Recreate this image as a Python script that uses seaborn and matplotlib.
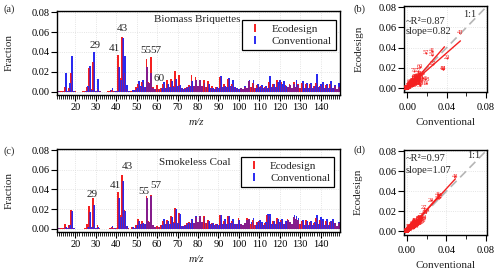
import numpy as np
import pandas as pd
import matplotlib
matplotlib.use("Agg")
import matplotlib.pyplot as plt
import seaborn as sns
from matplotlib.lines import Line2D
from matplotlib.ticker import MultipleLocator, FormatStrFormatter

# ---------------- data ----------------
mz = list(range(12, 151))

bb_eco = [0.001, 0.0003, 0.001, 0.005, 0.001, 0.004, 0.019, 0.0005, 0.0003, 0,
          0, 0, 0.0002, 0.0003, 0.005, 0.024, 0.003, 0.030, 0.001, 0.003,
          0.0005, 0, 0, 0, 0.0002, 0.001, 0.002, 0.001, 0.0005, 0.037,
          0.014, 0.055, 0.019, 0.003, 0.0005, 0.0003, 0.001, 0.002, 0.005, 0.008,
          0.005, 0.010, 0.005, 0.033, 0.010, 0.035, 0.005, 0.003, 0.007, 0.003,
          0.004, 0.008, 0.004, 0.012, 0.005, 0.013, 0.006, 0.021, 0.006, 0.017,
          0.004, 0.003, 0.004, 0.005, 0.007, 0.017, 0.006, 0.015, 0.006, 0.012,
          0.006, 0.012, 0.005, 0.011, 0.004, 0.006, 0.003, 0.005, 0.004, 0.015,
          0.005, 0.008, 0.005, 0.013, 0.006, 0.008, 0.005, 0.004, 0.003, 0.004,
          0.003, 0.005, 0.004, 0.011, 0.005, 0.009, 0.004, 0.007, 0.005, 0.006,
          0.004, 0.005, 0.004, 0.010, 0.005, 0.008, 0.005, 0.012, 0.006, 0.010,
          0.005, 0.007, 0.005, 0.008, 0.004, 0.010, 0.005, 0.008, 0.004, 0.009,
          0.004, 0.008, 0.004, 0.008, 0.004, 0.006, 0.009, 0.005, 0.006, 0.008,
          0.004, 0.007, 0.004, 0.008, 0.004, 0.006, 0.003, 0.005, 0.003]

bb_conv = [0.0003, 0, 0.0005, 0.019, 0.001, 0.009, 0.036, 0.001, 0, 0,
           0, 0, 0, 0.0002, 0.006, 0.026, 0.002, 0.040, 0.001, 0.013,
           0.0005, 0, 0, 0, 0, 0.002, 0.004, 0.0005, 0.0003, 0.025,
           0.012, 0.054, 0.036, 0.007, 0.0005, 0, 0.002, 0.002, 0.004, 0.011,
           0.006, 0.012, 0.005, 0.025, 0.009, 0.019, 0.004, 0.003, 0.003, 0.002,
           0.004, 0.010, 0.004, 0.008, 0.005, 0.011, 0.005, 0.013, 0.006, 0.007,
           0.004, 0.003, 0.004, 0.005, 0.006, 0.011, 0.006, 0.012, 0.006, 0.012,
           0.006, 0.009, 0.005, 0.008, 0.004, 0.004, 0.003, 0.005, 0.004, 0.016,
           0.005, 0.006, 0.005, 0.014, 0.006, 0.012, 0.005, 0.004, 0.003, 0.004,
           0.003, 0.006, 0.004, 0.012, 0.005, 0.012, 0.004, 0.008, 0.005, 0.007,
           0.004, 0.006, 0.004, 0.016, 0.005, 0.008, 0.005, 0.010, 0.012, 0.008,
           0.011, 0.006, 0.005, 0.007, 0.004, 0.008, 0.012, 0.007, 0.004, 0.011,
           0.004, 0.009, 0.004, 0.009, 0.004, 0.006, 0.018, 0.005, 0.008, 0.010,
           0.004, 0.008, 0.004, 0.011, 0.004, 0.007, 0.003, 0.009, 0.003]

sc_eco = [0.001, 0.0003, 0.001, 0.005, 0.001, 0.004, 0.019, 0.0005, 0.0002, 0,
          0, 0, 0, 0.0003, 0.005, 0.0235, 0.002, 0.031, 0.001, 0.004,
          0.0003, 0, 0, 0, 0, 0.001, 0.002, 0.0005, 0.0003, 0.037,
          0.014, 0.055, 0.019, 0.003, 0.0003, 0, 0.002, 0.001, 0.004, 0.010,
          0.005, 0.008, 0.005, 0.033, 0.008, 0.034, 0.004, 0.002, 0.003, 0.002,
          0.004, 0.008, 0.005, 0.009, 0.005, 0.013, 0.007, 0.021, 0.006, 0.016,
          0.003, 0.003, 0.004, 0.006, 0.007, 0.009, 0.006, 0.012, 0.007, 0.013,
          0.007, 0.013, 0.006, 0.009, 0.005, 0.006, 0.004, 0.005, 0.004, 0.014,
          0.005, 0.008, 0.005, 0.013, 0.006, 0.008, 0.005, 0.005, 0.011, 0.005,
          0.004, 0.006, 0.011, 0.010, 0.005, 0.009, 0.004, 0.007, 0.008, 0.006,
          0.004, 0.006, 0.014, 0.013, 0.005, 0.008, 0.005, 0.011, 0.006, 0.009,
          0.005, 0.007, 0.010, 0.007, 0.005, 0.012, 0.010, 0.009, 0.005, 0.008,
          0.004, 0.009, 0.004, 0.007, 0.004, 0.006, 0.011, 0.005, 0.009, 0.008,
          0.004, 0.008, 0.004, 0.007, 0.008, 0.006, 0.003, 0.006, 0.004]

sc_conv = [0.0003, 0, 0.0005, 0.002, 0.0005, 0.004, 0.018, 0.0005, 0, 0,
           0, 0, 0, 0, 0.002, 0.017, 0.002, 0.024, 0.001, 0.002,
           0, 0, 0, 0, 0, 0.001, 0.003, 0.0003, 0, 0.031,
           0.012, 0.049, 0.018, 0.003, 0, 0, 0.002, 0.001, 0.004, 0.008,
           0.005, 0.006, 0.005, 0.031, 0.007, 0.033, 0.004, 0.002, 0.002, 0.002,
           0.004, 0.010, 0.005, 0.008, 0.005, 0.012, 0.006, 0.020, 0.006, 0.015,
           0.003, 0.003, 0.004, 0.006, 0.006, 0.010, 0.006, 0.013, 0.007, 0.013,
           0.007, 0.012, 0.006, 0.008, 0.005, 0.006, 0.004, 0.005, 0.004, 0.014,
           0.005, 0.010, 0.005, 0.013, 0.006, 0.010, 0.005, 0.005, 0.009, 0.005,
           0.004, 0.006, 0.009, 0.010, 0.007, 0.011, 0.004, 0.007, 0.009, 0.007,
           0.004, 0.007, 0.015, 0.015, 0.005, 0.008, 0.005, 0.010, 0.007, 0.010,
           0.005, 0.008, 0.009, 0.007, 0.005, 0.014, 0.013, 0.011, 0.005, 0.009,
           0.004, 0.008, 0.004, 0.008, 0.004, 0.007, 0.014, 0.005, 0.012, 0.010,
           0.004, 0.010, 0.004, 0.008, 0.010, 0.006, 0.003, 0.007, 0.004]

series_names = ["Ecodesign", "Conventional"]
panel_titles = ["Biomass Briquettes", "Smokeless Coal"]
bb_peaks = [29, 41, 43, 55, 57, 60]
sc_peaks = [29, 41, 43, 55, 57]
fit_text_b = ["~R\u00b2=0.87", "slope=0.82"]
fit_text_d = ["~R\u00b2=0.97", "slope=1.07"]

# ---------------- style ----------------
RED = "#f42020"
BLUE = "#2a2af0"
PURPLE = "#851c8c"
sns.set_theme(style="ticks")
plt.rcParams["font.family"] = ["Liberation Serif", "DejaVu Serif"]
plt.rcParams["axes.edgecolor"] = "black"
plt.rcParams["axes.linewidth"] = 1.0
FS = 7.5

fig = plt.figure(figsize=(5.0, 2.76), dpi=100)
ax_a = fig.add_axes([0.114, 0.656, 0.566, 0.304])
ax_b = fig.add_axes([0.8086, 0.668, 0.1644, 0.3105])
ax_c = fig.add_axes([0.114, 0.159, 0.566, 0.302])
ax_d = fig.add_axes([0.808, 0.1496, 0.165, 0.308])


def style_common(ax):
    ax.set_axisbelow(True)
    ax.grid(True, which="major", color="#dcdcdc", linestyle=":", linewidth=0.6)
    for s in ax.spines.values():
        s.set_visible(True)
        s.set_color("black")
        s.set_linewidth(1.0)
    ax.tick_params(axis="both", which="both", direction="out", colors="black",
                   labelsize=FS, top=False, right=False, bottom=True, left=True)
    ax.tick_params(which="major", length=4, width=0.8, pad=1.5)
    ax.tick_params(which="minor", length=3, width=0.6)


def bar_panel(ax, eco, conv, title, title_pos, peaks, offsets, leg_pos):
    df = pd.DataFrame({"mz": mz, "eco": eco, "conv": conv})
    df["both"] = df[["eco", "conv"]].min(axis=1)
    common = dict(native_scale=True, saturation=1, linewidth=0,
                  errorbar=None, ax=ax)
    sns.barplot(x=df["mz"] - 0.2, y=df["eco"], width=0.9, color=RED, **common)
    sns.barplot(x=df["mz"] + 0.2, y=df["conv"], width=0.9, color=BLUE, **common)
    sns.barplot(x=df["mz"], y=df["both"], width=0.6, color=PURPLE, **common)
    ax.set_xlim(11, 149.5)
    ax.set_ylim(-0.0034, 0.0813)
    ax.xaxis.set_major_locator(MultipleLocator(10))
    ax.xaxis.set_minor_locator(MultipleLocator(1))
    ax.set_yticks([0, 0.02, 0.04, 0.06, 0.08])
    ax.yaxis.set_major_formatter(FormatStrFormatter("%.2f"))
    style_common(ax)
    ax.set_xlabel("m/z", fontsize=8, style="italic")
    ax.set_ylabel("Fraction", fontsize=8)
    ax.yaxis.set_label_coords(-0.152, 0.5)
    ax.xaxis.set_label_coords(0.494, -0.27)
    top = df[["eco", "conv"]].max(axis=1).values
    for p, (dx, dy) in zip(peaks, offsets):
        i = mz.index(p)
        ax.text(p + dx, top[i] + dy, str(p), fontsize=8, ha="center", va="center")
    ax.text(title_pos[0], title_pos[1], title, transform=ax.transAxes,
            fontsize=8, ha="right", va="center")
    handles = [Line2D([], [], color=RED, marker="|", linestyle="None",
                      markersize=6, markeredgewidth=1.4),
               Line2D([], [], color=BLUE, marker="|", linestyle="None",
                      markersize=6, markeredgewidth=1.4)]
    leg = ax.legend(handles, series_names, loc="upper left", bbox_to_anchor=leg_pos,
                    fontsize=8, frameon=True, fancybox=False, edgecolor="black",
                    framealpha=1, borderaxespad=0, handlelength=1.7,
                    handletextpad=0.6, borderpad=0.35, labelspacing=0.2)
    leg.get_frame().set_linewidth(0.9)


def scatter_panel(ax, eco, conv, texts, text_y, one_pos):
    df = pd.DataFrame({"mz": mz, "conv": conv, "eco": eco})
    ax.axline((0, 0), slope=1, color="#b5b5b5", linestyle=(0, (5, 3)), linewidth=1.2)
    sns.scatterplot(data=df, x="conv", y="eco", color=RED, s=2, linewidth=0,
                    legend=False, ax=ax)
    for _, r in df.iterrows():
        ax.text(r["conv"], r["eco"], str(int(r["mz"])), fontsize=4.6, color=RED,
                ha="center", va="center")
    p = np.polyfit(df["conv"], df["eco"], 1)
    xs = np.linspace(0, df["conv"].max(), 2)
    sns.lineplot(x=xs, y=np.polyval(p, xs), color=RED, linewidth=1.0, ax=ax)
    q = np.polyfit(df["eco"], df["conv"], 1)
    xs2 = np.linspace(0, 0.7 * df["conv"].max(), 2)
    sns.lineplot(x=xs2, y=(xs2 - q[1]) / q[0], color=RED, linewidth=1.0, ax=ax)
    ax.set_xlim(-0.003, 0.0805)
    ax.set_ylim(-0.0034, 0.0813)
    ax.set_xticks([0, 0.04, 0.08])
    ax.xaxis.set_minor_locator(MultipleLocator(0.02))
    ax.set_yticks([0, 0.02, 0.04, 0.06, 0.08])
    ax.xaxis.set_major_formatter(FormatStrFormatter("%.2f"))
    ax.yaxis.set_major_formatter(FormatStrFormatter("%.2f"))
    style_common(ax)
    ax.tick_params(axis="x", which="major", pad=4)
    ax.set_xlabel("Conventional", fontsize=8)
    ax.set_ylabel("Ecodesign", fontsize=8)
    ax.yaxis.set_label_coords(-0.50, 0.5)
    ax.xaxis.set_label_coords(0.5, -0.31)
    ax.text(-0.0015, text_y[0], texts[0], fontsize=FS, ha="left", va="center")
    ax.text(-0.0015, text_y[1], texts[1], fontsize=FS, ha="left", va="center")
    ax.text(one_pos[0], one_pos[1], "1:1", fontsize=FS, ha="center", va="center")


bar_panel(ax_a, bb_eco, bb_conv, panel_titles[0], (0.65, 0.90), bb_peaks,
          [(0.4, 0.0066), (-1.7, 0.006), (-0.1, 0.0086), (-0.5, 0.0085),
           (2.2, 0.0065), (0.8, 0.0067)], (0.654, 0.893))
bar_panel(ax_c, sc_eco, sc_conv, panel_titles[1], (0.615, 0.83), sc_peaks,
          [(-0.6, 0.0037), (-1.5, 0.007), (2.5, 0.008), (-1.7, 0.005),
           (2.5, 0.010)], (0.649, 0.897))
scatter_panel(ax_b, bb_eco, bb_conv, fit_text_b, (0.0658, 0.0559), (0.063, 0.0724))
scatter_panel(ax_d, sc_eco, sc_conv, fit_text_d, (0.0722, 0.0604), (0.068, 0.0756))

for lab, x, y in [("(a)", 4, 9.3), ("(b)", 353, 9.3), ("(c)", 4, 151.3), ("(d)", 353, 150.3)]:
    fig.text(x / 500, 1 - y / 276, lab, fontsize=FS, ha="left", va="center")

fig.savefig("out.png", dpi=100)
